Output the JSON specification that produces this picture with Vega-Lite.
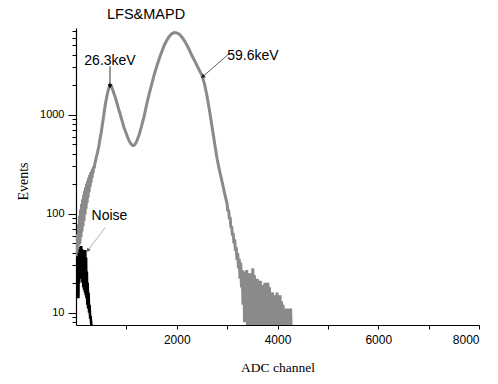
{
  "$schema": "https://vega.github.io/schema/vega-lite/v6.json",
  "width": 403,
  "height": 297,
  "autosize": {"type": "none"},
  "padding": {"left": 76, "top": 28, "right": 19, "bottom": 59},
  "background": "white",
  "config": {
    "view": {"stroke": null},
    "axis": {
      "domainColor": "black",
      "domainWidth": 1.2,
      "tickColor": "black",
      "labelColor": "black",
      "labelFont": "Liberation Sans",
      "titleFont": "Liberation Serif",
      "titleFontWeight": "normal",
      "titleColor": "black",
      "grid": false
    }
  },
  "title": {
    "text": "LFS&MAPD",
    "anchor": "start",
    "frame": "group",
    "dx": 31,
    "dy": 14,
    "offset": 9,
    "baseline": "alphabetic",
    "font": "Liberation Sans",
    "fontSize": 14.5,
    "fontWeight": "normal",
    "color": "black"
  },
  "datasets": {
    "spectrum": [
      {"ch": 0, "v": 35}, {"ch": 10, "v": 48}, {"ch": 20, "v": 38}, {"ch": 30, "v": 62}, {"ch": 40, "v": 42},
      {"ch": 50, "v": 78}, {"ch": 60, "v": 48}, {"ch": 70, "v": 95}, {"ch": 80, "v": 50}, {"ch": 90, "v": 110},
      {"ch": 100, "v": 58}, {"ch": 110, "v": 125}, {"ch": 120, "v": 66}, {"ch": 130, "v": 140}, {"ch": 140, "v": 74},
      {"ch": 150, "v": 155}, {"ch": 160, "v": 85}, {"ch": 170, "v": 170}, {"ch": 180, "v": 98}, {"ch": 190, "v": 185},
      {"ch": 200, "v": 112}, {"ch": 210, "v": 200}, {"ch": 220, "v": 128}, {"ch": 230, "v": 215}, {"ch": 240, "v": 145},
      {"ch": 250, "v": 230}, {"ch": 260, "v": 165}, {"ch": 270, "v": 245}, {"ch": 280, "v": 185}, {"ch": 290, "v": 260},
      {"ch": 300, "v": 205}, {"ch": 310, "v": 270}, {"ch": 320, "v": 230}, {"ch": 330, "v": 285}, {"ch": 340, "v": 255},
      {"ch": 350, "v": 300}, {"ch": 360, "v": 285}, {"ch": 375, "v": 320}, {"ch": 400, "v": 365},
      {"ch": 425, "v": 410}, {"ch": 450, "v": 470}, {"ch": 475, "v": 560}, {"ch": 500, "v": 660}, {"ch": 525, "v": 800},
      {"ch": 550, "v": 980}, {"ch": 575, "v": 1200}, {"ch": 600, "v": 1420}, {"ch": 625, "v": 1650}, {"ch": 650, "v": 1850},
      {"ch": 675, "v": 2000}, {"ch": 700, "v": 1950}, {"ch": 725, "v": 1800}, {"ch": 750, "v": 1650}, {"ch": 775, "v": 1520},
      {"ch": 800, "v": 1380}, {"ch": 825, "v": 1240}, {"ch": 850, "v": 1120}, {"ch": 875, "v": 1020}, {"ch": 900, "v": 920},
      {"ch": 925, "v": 830}, {"ch": 950, "v": 750}, {"ch": 975, "v": 690}, {"ch": 1000, "v": 640}, {"ch": 1025, "v": 590},
      {"ch": 1050, "v": 550}, {"ch": 1075, "v": 520}, {"ch": 1100, "v": 500}, {"ch": 1125, "v": 488}, {"ch": 1150, "v": 490},
      {"ch": 1175, "v": 505}, {"ch": 1200, "v": 530}, {"ch": 1250, "v": 620}, {"ch": 1300, "v": 760}, {"ch": 1350, "v": 950},
      {"ch": 1400, "v": 1250}, {"ch": 1450, "v": 1600}, {"ch": 1500, "v": 2000}, {"ch": 1550, "v": 2500}, {"ch": 1600, "v": 3050},
      {"ch": 1650, "v": 3650}, {"ch": 1700, "v": 4300}, {"ch": 1750, "v": 5000}, {"ch": 1800, "v": 5600}, {"ch": 1850, "v": 6150},
      {"ch": 1900, "v": 6550}, {"ch": 1950, "v": 6750}, {"ch": 2000, "v": 6700}, {"ch": 2050, "v": 6500}, {"ch": 2100, "v": 6100},
      {"ch": 2150, "v": 5600}, {"ch": 2200, "v": 5050}, {"ch": 2250, "v": 4500}, {"ch": 2300, "v": 3950}, {"ch": 2350, "v": 3550},
      {"ch": 2400, "v": 3150}, {"ch": 2450, "v": 2800}, {"ch": 2500, "v": 2500}, {"ch": 2550, "v": 2050}, {"ch": 2600, "v": 1550},
      {"ch": 2650, "v": 1100}, {"ch": 2700, "v": 760}, {"ch": 2750, "v": 520}, {"ch": 2800, "v": 360}, {"ch": 2850, "v": 270},
      {"ch": 2900, "v": 210}, {"ch": 2950, "v": 160}, {"ch": 3000, "v": 125}, {"ch": 3015, "v": 105}, {"ch": 3030, "v": 110},
      {"ch": 3045, "v": 88}, {"ch": 3060, "v": 92}, {"ch": 3075, "v": 72}, {"ch": 3090, "v": 75}, {"ch": 3105, "v": 60},
      {"ch": 3120, "v": 64}, {"ch": 3135, "v": 50}, {"ch": 3150, "v": 55}, {"ch": 3165, "v": 42}, {"ch": 3180, "v": 46},
      {"ch": 3195, "v": 34}, {"ch": 3210, "v": 40}, {"ch": 3225, "v": 28}, {"ch": 3240, "v": 35}, {"ch": 3255, "v": 22},
      {"ch": 3270, "v": 32}, {"ch": 3285, "v": 18}, {"ch": 3300, "v": 27}, {"ch": 3315, "v": 12}, {"ch": 3330, "v": 26},
      {"ch": 3345, "v": 8}, {"ch": 3360, "v": 24}, {"ch": 3375, "v": 15}, {"ch": 3390, "v": 27}, {"ch": 3405, "v": 6},
      {"ch": 3420, "v": 23}, {"ch": 3435, "v": 12}, {"ch": 3450, "v": 25}, {"ch": 3465, "v": 5}, {"ch": 3480, "v": 22},
      {"ch": 3495, "v": 14}, {"ch": 3510, "v": 28}, {"ch": 3525, "v": 7}, {"ch": 3540, "v": 24}, {"ch": 3555, "v": 15},
      {"ch": 3570, "v": 21}, {"ch": 3585, "v": 5}, {"ch": 3600, "v": 22}, {"ch": 3615, "v": 12}, {"ch": 3630, "v": 20},
      {"ch": 3645, "v": 6}, {"ch": 3660, "v": 21}, {"ch": 3675, "v": 13}, {"ch": 3690, "v": 18}, {"ch": 3705, "v": 5},
      {"ch": 3720, "v": 19}, {"ch": 3735, "v": 11}, {"ch": 3750, "v": 20}, {"ch": 3765, "v": 6}, {"ch": 3780, "v": 17},
      {"ch": 3795, "v": 12}, {"ch": 3810, "v": 20}, {"ch": 3825, "v": 5}, {"ch": 3840, "v": 18}, {"ch": 3855, "v": 10},
      {"ch": 3870, "v": 16}, {"ch": 3885, "v": 5}, {"ch": 3900, "v": 16}, {"ch": 3915, "v": 11}, {"ch": 3930, "v": 15},
      {"ch": 3945, "v": 6}, {"ch": 3960, "v": 14}, {"ch": 3975, "v": 9}, {"ch": 3990, "v": 16}, {"ch": 4005, "v": 5},
      {"ch": 4020, "v": 15}, {"ch": 4035, "v": 10}, {"ch": 4050, "v": 15}, {"ch": 4065, "v": 5}, {"ch": 4080, "v": 13},
      {"ch": 4095, "v": 8}, {"ch": 4110, "v": 12}, {"ch": 4125, "v": 5}, {"ch": 4140, "v": 11}, {"ch": 4155, "v": 8},
      {"ch": 4170, "v": 11}, {"ch": 4185, "v": 5}, {"ch": 4200, "v": 11}, {"ch": 4215, "v": 7}, {"ch": 4230, "v": 11},
      {"ch": 4245, "v": 5}, {"ch": 4260, "v": 11}, {"ch": 4275, "v": 6}, {"ch": 4285, "v": 5}
    ],
    "noise": [
      {"ch": 0, "v": 14}, {"ch": 8, "v": 32}, {"ch": 16, "v": 16}, {"ch": 24, "v": 37}, {"ch": 32, "v": 18},
      {"ch": 40, "v": 35}, {"ch": 48, "v": 14}, {"ch": 56, "v": 40}, {"ch": 64, "v": 20}, {"ch": 72, "v": 43},
      {"ch": 80, "v": 22}, {"ch": 88, "v": 46}, {"ch": 96, "v": 24}, {"ch": 104, "v": 47}, {"ch": 112, "v": 22},
      {"ch": 120, "v": 44}, {"ch": 128, "v": 20}, {"ch": 136, "v": 40}, {"ch": 144, "v": 18}, {"ch": 152, "v": 43},
      {"ch": 160, "v": 17}, {"ch": 168, "v": 42}, {"ch": 176, "v": 16}, {"ch": 184, "v": 43}, {"ch": 192, "v": 15},
      {"ch": 200, "v": 36}, {"ch": 208, "v": 14}, {"ch": 216, "v": 26}, {"ch": 224, "v": 12}, {"ch": 232, "v": 20},
      {"ch": 240, "v": 11}, {"ch": 250, "v": 16}, {"ch": 260, "v": 10}, {"ch": 270, "v": 12}, {"ch": 280, "v": 9},
      {"ch": 290, "v": 9}, {"ch": 300, "v": 8}, {"ch": 310, "v": 7}, {"ch": 320, "v": 6}
    ],
    "labels": [
      {"label": "26.3keV", "ch": 675, "v": 3510},
      {"label": "59.6keV", "ch": 3512, "v": 3880},
      {"label": "Noise", "ch": 665, "v": 95.5}
    ],
    "arrows": [
      {"label": "26.3keV", "ch": 675, "v": 3080, "ch2": 675, "v2": 1960},
      {"label": "59.6keV", "ch": 3056, "v": 4200, "ch2": 2526, "v2": 2440},
      {"label": "Noise", "ch": 575, "v": 72, "ch2": 244, "v2": 43}
    ]
  },
  "layer": [
    {
      "data": {"name": "spectrum"},
      "mark": {"type": "line", "color": "#8a8a8a", "strokeWidth": 3, "clip": true},
      "encoding": {
        "x": {
          "field": "ch", "type": "quantitative",
          "scale": {"domain": [0, 8000], "nice": false, "zero": false},
          "axis": {
            "title": "ADC channel",
            "values": [1000, 2000, 3000, 4000, 5000, 6000, 7000, 8000],
            "format": "d",
            "labelExpr": "datum.value % 2000 === 0 ? datum.label : ''",
            "labelFontSize": 12,
            "labelPadding": 5,
            "tickSize": 4,
            "titleFontSize": 13.5,
            "titleBaseline": "alphabetic",
            "titleY": 46
          }
        },
        "y": {
          "field": "v", "type": "quantitative",
          "scale": {"type": "log", "domain": [7.5, 7500], "nice": false, "zero": false},
          "axis": {
            "title": "Events",
            "values": [8, 9, 10, 20, 30, 40, 50, 60, 70, 80, 90, 100, 200, 300, 400, 500, 600, 700, 800, 900, 1000, 2000, 3000, 4000, 5000, 6000, 7000],
            "format": "d",
            "labelExpr": "indexof([10, 100, 1000], datum.value) >= 0 ? datum.label : ''",
            "labelFontSize": 11,
            "labelPadding": 4,
            "tickSize": {"condition": {"test": "indexof([10, 100, 1000], datum.value) >= 0", "value": 8}, "value": 4},
            "titleFontSize": 14,
            "titleBaseline": "alphabetic",
            "titleX": -49,
            "titleY": 153
          }
        }
      }
    },
    {
      "data": {"name": "noise"},
      "mark": {"type": "line", "color": "black", "strokeWidth": 2.6, "clip": true},
      "encoding": {
        "x": {"field": "ch", "type": "quantitative"},
        "y": {"field": "v", "type": "quantitative"}
      }
    },
    {
      "data": {"name": "arrows"},
      "mark": {"type": "rule", "strokeWidth": 0.8},
      "encoding": {
        "x": {"field": "ch", "type": "quantitative"},
        "y": {"field": "v", "type": "quantitative"},
        "x2": {"field": "ch2"},
        "y2": {"field": "v2"},
        "color": {"field": "label", "type": "nominal", "legend": null,
          "scale": {"domain": ["26.3keV", "59.6keV", "Noise"], "range": ["#000000", "#333333", "#999999"]}}
      }
    },
    {
      "data": {"name": "arrows"},
      "transform": [{"filter": "datum.label === '26.3keV'"}],
      "mark": {"type": "point", "shape": "triangle", "angle": 180, "filled": true, "color": "black", "size": 22, "opacity": 1},
      "encoding": {
        "x": {"field": "ch2", "type": "quantitative"},
        "y": {"field": "v2", "type": "quantitative"}
      }
    },
    {
      "data": {"name": "arrows"},
      "transform": [{"filter": "datum.label === '59.6keV'"}],
      "mark": {"type": "point", "shape": "triangle", "angle": 229, "filled": true, "color": "#222222", "size": 22, "opacity": 1},
      "encoding": {
        "x": {"field": "ch2", "type": "quantitative"},
        "y": {"field": "v2", "type": "quantitative"}
      }
    },
    {
      "data": {"name": "arrows"},
      "transform": [{"filter": "datum.label === 'Noise'"}],
      "mark": {"type": "point", "shape": "triangle", "angle": 218, "filled": true, "color": "#555555", "size": 18, "opacity": 1},
      "encoding": {
        "x": {"field": "ch2", "type": "quantitative"},
        "y": {"field": "v2", "type": "quantitative"}
      }
    },
    {
      "data": {"name": "labels"},
      "mark": {"type": "text", "font": "Liberation Sans", "fontSize": 14, "color": "black", "align": "center", "baseline": "middle"},
      "encoding": {
        "x": {"field": "ch", "type": "quantitative"},
        "y": {"field": "v", "type": "quantitative"},
        "text": {"field": "label"}
      }
    }
  ]
}
